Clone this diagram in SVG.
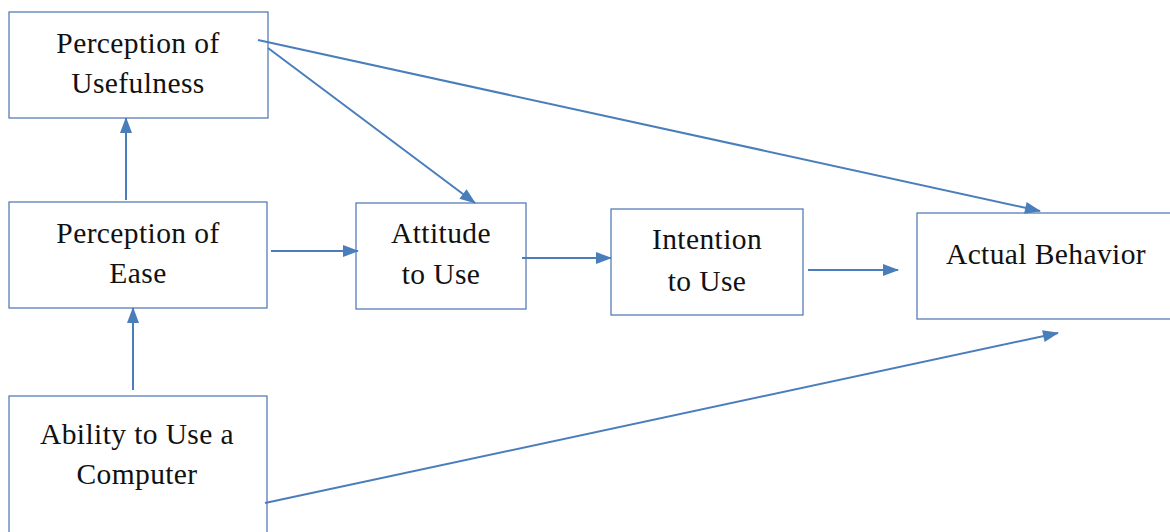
<svg xmlns="http://www.w3.org/2000/svg" width="1170" height="532" viewBox="0 0 1170 532">
<defs>
<style>
.box{fill:#fff;stroke:#4a72b0;stroke-width:1.2}
.t{font-family:"Liberation Serif",serif;font-size:29.5px;letter-spacing:0.4px;fill:#111;text-anchor:middle}
.c{stroke:#4a7ebb;stroke-width:2;fill:none;marker-end:url(#ah)}
</style>
<marker id="ah" viewBox="0 0 16 12" refX="15" refY="6" markerWidth="16" markerHeight="12" markerUnits="userSpaceOnUse" orient="auto" overflow="visible">
<path d="M0,0 L16,6 L0,12 z" fill="#4a7ebb"/>
</marker>
</defs>
<rect width="1170" height="532" fill="#fff"/>
<g id="n-usefulness"><rect class="box" x="9" y="12" width="259" height="106"/><text class="t" x="138" y="53">Perception of</text><text class="t" x="138" y="93">Usefulness</text></g>
<g id="n-ease"><rect class="box" x="9" y="202" width="258" height="106"/><text class="t" x="138" y="243">Perception of</text><text class="t" x="138" y="283">Ease</text></g>
<g id="n-ability"><rect class="box" x="9" y="396" width="258" height="140"/><text class="t" x="137" y="444">Ability to Use a</text><text class="t" x="137" y="484">Computer</text></g>
<g id="n-attitude"><rect class="box" x="356" y="203" width="170" height="106"/><text class="t" x="441" y="243">Attitude</text><text class="t" x="441" y="284">to Use</text></g>
<g id="n-intention"><rect class="box" x="611" y="209" width="192" height="106"/><text class="t" x="707" y="249">Intention</text><text class="t" x="707" y="291">to Use</text></g>
<g id="n-actual"><rect class="box" x="917" y="213" width="258" height="106"/><text class="t" x="1046" y="264">Actual Behavior</text></g>
<g id="connectors">
<line class="c" x1="126" y1="200" x2="126" y2="118"/>
<line class="c" x1="133" y1="390" x2="133" y2="308"/>
<line class="c" x1="271" y1="251" x2="358" y2="251"/>
<line class="c" x1="522" y1="258" x2="611" y2="258"/>
<line class="c" x1="808" y1="270" x2="898" y2="270"/>
<line class="c" x1="258" y1="40" x2="1040" y2="211"/>
<line class="c" x1="268" y1="48" x2="475" y2="203"/>
<line class="c" x1="265" y1="503" x2="1058" y2="333"/>
</g>
</svg>
